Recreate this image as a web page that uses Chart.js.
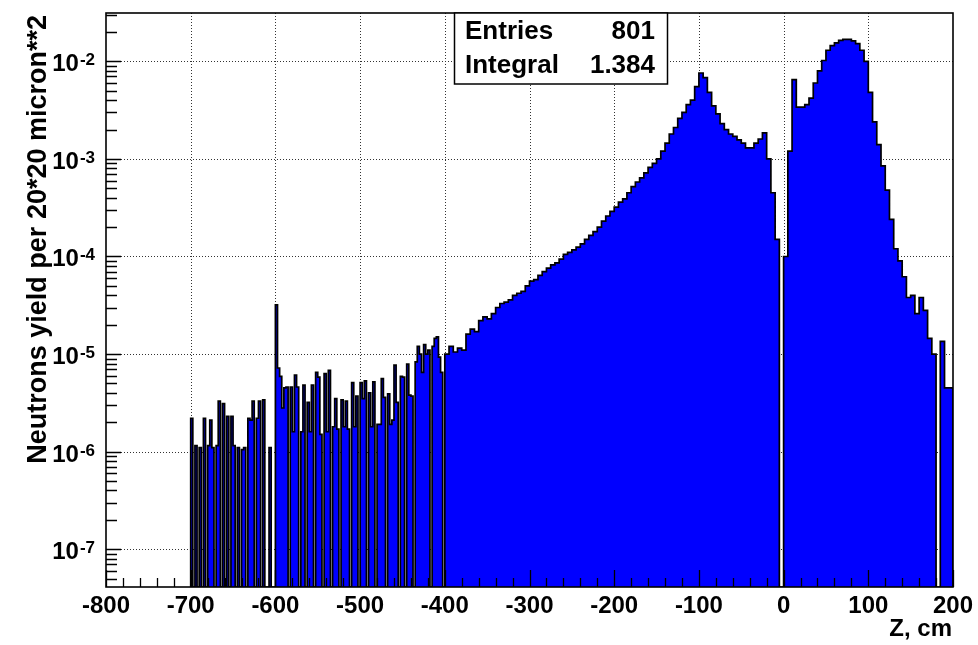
<!DOCTYPE html>
<html>
<head>
<meta charset="utf-8">
<script src="https://cdn.jsdelivr.net/npm/chart.js@4.4.1/dist/chart.umd.min.js"></script>
<style>
  html, body { margin: 0; padding: 0; background: #fff; }
  #wrap { width: 978px; height: 645px; }
</style>
</head>
<body>
<div id="wrap"><canvas id="hist" width="978" height="645"></canvas></div>
<script>
// neutron yield vs Z; 2.5 cm bins from -700 to -400, 5 cm bins from -400 to 200
const fineStart = -700;
const fineWidth = 2.5;
const fineYield = [
  2.2e-6, 0, 1.15e-6, 0, 1.1e-6, 0, 2.2e-6, 0, 1.15e-6, 2.1e-6,
  1.1e-6, 0, 1.15e-6, 3.3e-6, 0, 3.1e-6, 0, 2.3e-6, 0, 2.3e-6,
  1.15e-6, 0, 1.1e-6, 0, 1.05e-6, 1.1e-6, 0, 2.2e-6, 2.1e-6, 3.3e-6,
  0, 2.2e-6, 3.3e-6, 0, 3.4e-6, 0, 0, 1.1e-6, 0, 0,
  3.2e-5, 7.2e-6, 5.9e-6, 2.8e-6, 4.5e-6, 4.6e-6, 0, 4.6e-6, 1.6e-6, 6.1e-6,
  4.6e-6, 0, 1.6e-6, 4.8e-6, 0, 3.2e-6, 1.6e-6, 4.8e-6, 0, 6.5e-6,
  5.8e-6, 1.5e-6, 0, 6.3e-6, 1.6e-6, 6.8e-6, 0, 1.8e-6, 3.5e-6, 1.7e-6,
  0, 3.4e-6, 1.8e-6, 3.3e-6, 1.7e-6, 0, 5.1e-6, 1.8e-6, 3.7e-6, 0,
  5.1e-6, 3.5e-6, 5.3e-6, 0, 4.0e-6, 1.8e-6, 5.2e-6, 0, 1.9e-6, 1.9e-6,
  5.6e-6, 3.6e-6, 0, 3.9e-6, 1.9e-6, 2.1e-6, 7.7e-6, 3.2e-6, 0, 5.9e-6,
  5.8e-6, 0, 7.9e-6, 3.8e-6, 3.7e-6, 0, 8.3e-6, 1.2e-5, 1.0e-5, 6.5e-6,
  1.25e-5, 1.0e-5, 1.1e-5, 0, 1.2e-5, 1.45e-5, 1.5e-5, 9.3e-6, 6.5e-6, 0
];
const coarseStart = -400;
const coarseWidth = 5;
const coarseYield = [
  1.0e-5, 1.2e-5, 1.05e-5, 1.15e-5, 1.1e-5, 1.6e-5, 1.8e-5, 1.7e-5, 2.2e-5, 2.4e-5,
  2.3e-5, 2.6e-5, 3.0e-5, 3.3e-5, 3.4e-5, 3.6e-5, 4.0e-5, 4.2e-5, 4.4e-5, 5.0e-5,
  5.6e-5, 5.8e-5, 6.4e-5, 7.0e-5, 7.6e-5, 8.2e-5, 8.6e-5, 9.4e-5, 1.05e-4, 1.1e-4,
  1.17e-4, 1.25e-4, 1.35e-4, 1.5e-4, 1.65e-4, 1.8e-4, 2.0e-4, 2.3e-4, 2.6e-4, 2.9e-4,
  3.2e-4, 3.6e-4, 3.9e-4, 4.5e-4, 5.2e-4, 5.8e-4, 6.4e-4, 7.2e-4, 8.2e-4, 9.0e-4,
  1.0e-3, 1.2e-3, 1.45e-3, 1.8e-3, 2.1e-3, 2.6e-3, 3.0e-3, 3.6e-3, 4.0e-3, 5.5e-3,
  7.6e-3, 6.8e-3, 4.8e-3, 3.5e-3, 2.9e-3, 2.3e-3, 2.0e-3, 1.8e-3, 1.7e-3, 1.57e-3,
  1.45e-3, 1.3e-3, 1.3e-3, 1.45e-3, 1.6e-3, 1.85e-3, 1.0e-3, 4.5e-4, 1.5e-4, 0,
  1.0e-4, 1.2e-3, 6.5e-3, 3.4e-3, 3.4e-3, 3.6e-3, 4.2e-3, 6.0e-3, 8.0e-3, 1.02e-2,
  1.3e-2, 1.45e-2, 1.55e-2, 1.64e-2, 1.68e-2, 1.68e-2, 1.62e-2, 1.52e-2, 1.3e-2, 1.0e-2,
  4.8e-3, 2.4e-3, 1.4e-3, 8.5e-4, 4.8e-4, 2.4e-4, 1.2e-4, 9.0e-5, 6.2e-5, 3.8e-5,
  4.0e-5, 2.6e-5, 3.8e-5, 2.8e-5, 1.45e-5, 1.0e-5, 0, 1.35e-5, 4.5e-6, 4.5e-6
];

const xTicks = [-800, -700, -600, -500, -400, -300, -200, -100, 0, 100, 200];
const yDecades = [-7, -6, -5, -4, -3, -2];
const statLabels = ['Entries', 'Integral'];
const statValues = ['801', '1.384'];
const xTitle = 'Z, cm';
const yTitle = 'Neutrons yield per 20*20 micron**2';

const xMin = -800, xMax = 200;
const yMin = 4.1e-8, yMax = 3.13e-2;

const FONT = '"Liberation Sans", Arial, Helvetica, sans-serif';

// build step outline, empty bins sit on the axis floor
function buildPoints() {
  const pts = [{ x: fineStart, y: yMin }];
  fineYield.forEach((v, i) => pts.push({ x: fineStart + i * fineWidth, y: v > 0 ? v : yMin }));
  coarseYield.forEach((v, i) => pts.push({ x: coarseStart + i * coarseWidth, y: v > 0 ? v : yMin }));
  const last = coarseYield[coarseYield.length - 1];
  pts.push({ x: coarseStart + coarseYield.length * coarseWidth, y: last > 0 ? last : yMin });
  pts.push({ x: coarseStart + coarseYield.length * coarseWidth, y: yMin });
  return pts;
}

const rootStyle = {
  id: 'rootStyle',
  beforeDatasetsDraw(chart) {
    const { ctx, chartArea: a, scales: { x, y } } = chart;
    ctx.save();
    ctx.strokeStyle = '#333';
    ctx.lineWidth = 1;
    ctx.setLineDash([1, 2]);
    ctx.beginPath();
    xTicks.forEach(v => {
      const px = Math.round(x.getPixelForValue(v)) + 0.5;
      if (px > a.left + 2 && px < a.right - 2) {
        ctx.moveTo(px, a.top);
        ctx.lineTo(px, a.bottom);
      }
    });
    yDecades.forEach(e => {
      const py = Math.round(y.getPixelForValue(Math.pow(10, e))) + 0.5;
      ctx.moveTo(a.left, py);
      ctx.lineTo(a.right, py);
    });
    ctx.stroke();
    ctx.restore();
  },
  afterDatasetsDraw(chart) {
    const { ctx, chartArea: a, scales: { x, y } } = chart;
    ctx.save();
    ctx.strokeStyle = '#000';
    ctx.fillStyle = '#000';

    // ticks
    ctx.lineWidth = 1.3;
    ctx.beginPath();
    for (let e = -8; e <= -2; e++) {
      for (let m = 1; m <= 9; m++) {
        const v = m * Math.pow(10, e);
        if (v < yMin || v > yMax) continue;
        const py = Math.round(y.getPixelForValue(v)) + 0.5;
        const len = m === 1 ? 15 : 11;
        ctx.moveTo(a.left, py);
        ctx.lineTo(a.left + len, py);
      }
    }
    for (let v = xMin; v <= xMax; v += 20) {
      const px = Math.round(x.getPixelForValue(v)) + 0.5;
      const len = v % 100 === 0 ? 17 : 9;
      ctx.moveTo(px, a.bottom);
      ctx.lineTo(px, a.bottom - len);
    }
    ctx.stroke();

    // frame
    ctx.lineWidth = 1.6;
    ctx.strokeRect(a.left, a.top, a.right - a.left, a.bottom - a.top);

    // x tick labels
    ctx.font = 'bold 24px ' + FONT;
    ctx.textAlign = 'center';
    ctx.textBaseline = 'alphabetic';
    xTicks.forEach(v => {
      ctx.fillText(String(v), x.getPixelForValue(v), 613);
    });

    // y tick labels 10^n
    yDecades.forEach(e => {
      const py = y.getPixelForValue(Math.pow(10, e));
      ctx.font = 'bold 24px ' + FONT;
      const wBase = ctx.measureText('10').width;
      ctx.font = 'bold 17px ' + FONT;
      const exp = String(e);
      const wExp = ctx.measureText(exp).width;
      const right = 95;
      const x0 = right - wExp - wBase - 1;
      ctx.textAlign = 'left';
      ctx.font = 'bold 24px ' + FONT;
      ctx.fillText('10', x0, py + 10);
      ctx.font = 'bold 17px ' + FONT;
      ctx.fillText(exp, x0 + wBase + 1, py + 4);
    });

    // axis titles
    ctx.font = 'bold 24px ' + FONT;
    ctx.textAlign = 'right';
    ctx.fillText(xTitle, 952, 636);

    ctx.save();
    ctx.translate(46, 15);
    ctx.rotate(-Math.PI / 2);
    ctx.font = 'bold 27px ' + FONT;
    ctx.textAlign = 'right';
    ctx.fillText(yTitle, 0, 0);
    ctx.restore();

    // stats box
    const bx = 454.5, by = 13, bw = 213, bh = 71;
    ctx.fillStyle = '#fff';
    ctx.fillRect(bx, by, bw, bh);
    ctx.lineWidth = 1.5;
    ctx.strokeRect(bx, by, bw, bh);
    ctx.fillStyle = '#000';
    ctx.font = 'bold 26px ' + FONT;
    const rows = [39, 73];
    statLabels.forEach((lab, i) => {
      ctx.textAlign = 'left';
      ctx.fillText(lab, 465, rows[i]);
      ctx.textAlign = 'right';
      ctx.fillText(statValues[i], 655, rows[i]);
    });
    ctx.restore();
  }
};

const canvas = document.getElementById('hist');
new Chart(canvas.getContext('2d'), {
  type: 'line',
  data: {
    datasets: [{
      data: buildPoints(),
      stepped: 'before',
      borderColor: '#000',
      borderWidth: 1.7,
      backgroundColor: '#0000ff',
      fill: 'start',
      pointRadius: 0,
      tension: 0
    }]
  },
  options: {
    responsive: false,
    animation: false,
    devicePixelRatio: 1,
    layout: { padding: { left: 106, right: 25, top: 13, bottom: 58 } },
    plugins: { legend: { display: false }, tooltip: { enabled: false } },
    scales: {
      x: { type: 'linear', min: xMin, max: xMax, display: false },
      y: { type: 'logarithmic', min: yMin, max: yMax, display: false }
    }
  },
  plugins: [rootStyle]
});
</script>
</body>
</html>
